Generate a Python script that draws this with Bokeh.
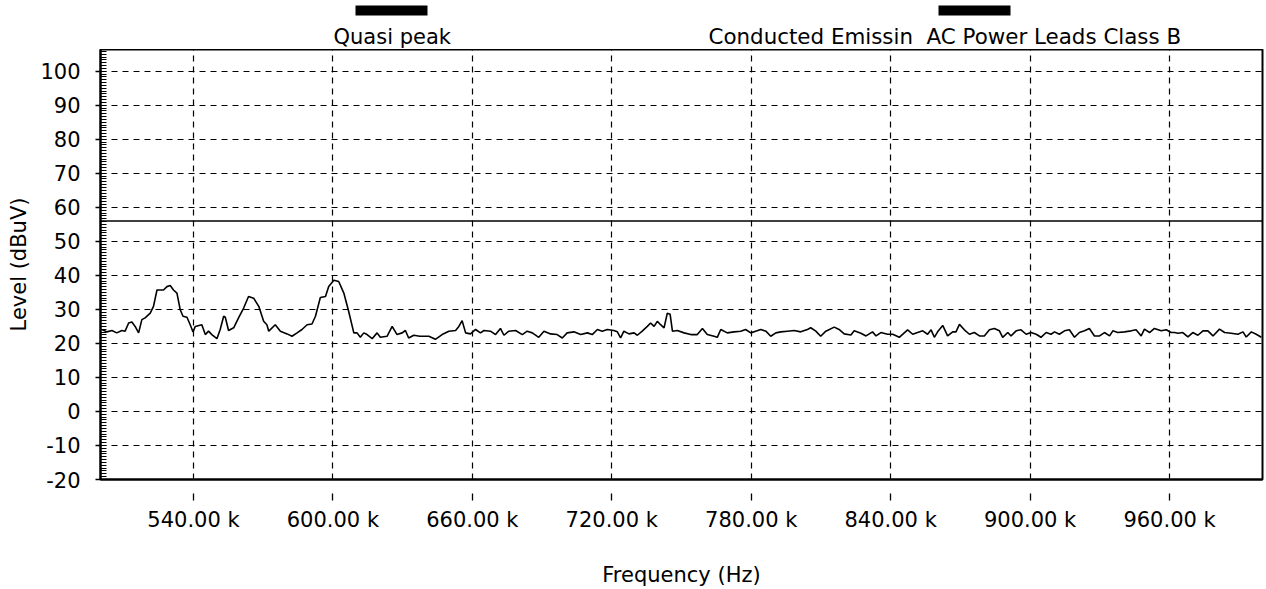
from bokeh.plotting import figure
from bokeh.layouts import column
from bokeh.models import Range1d, FixedTicker, CustomJSTickFormatter, Label, BoxAnnotation
from bokeh.embed import file_html
from bokeh.resources import INLINE

# ---- data ----
freq_khz = [
    500.6, 502.7, 504.9, 507.0, 509.2, 510.6, 512.1, 513.5, 514.9, 516.4,
    517.8, 519.2, 521.4, 522.8, 524.3, 527.1, 528.6, 530.0, 531.4, 532.9,
    534.3, 535.5, 537.2, 538.6, 539.8, 540.8, 543.6, 545.1, 546.5, 547.9,
    550.1, 551.5, 553.0, 553.7, 555.1, 557.3, 559.4, 561.6, 563.7, 565.9,
    568.1, 570.2, 571.6, 572.4, 575.2, 577.4, 580.3, 582.4, 584.6, 586.7,
    588.9, 591.0, 592.5, 594.6, 596.8, 598.2, 600.4, 602.5, 604.7, 606.8,
    609.0, 610.4, 611.8, 613.3, 614.7, 616.9, 619.0, 620.4, 623.3, 625.5,
    627.6, 629.8, 631.2, 632.6, 634.8, 637.4,
    641.3, 644.1, 647.0, 649.9, 652.8, 654.2, 655.6, 657.1, 659.2,
    661.4, 663.5, 665.0, 667.8, 670.0, 672.1, 673.6, 675.7, 678.6, 681.5,
    683.6, 685.8, 688.6, 690.8, 693.7, 696.5, 698.7, 700.8, 703.7, 706.6,
    709.5, 711.6, 713.8, 715.9, 718.1, 720.9, 722.4, 723.8, 725.2, 727.4,
    729.6, 731.0, 733.1, 735.3, 736.7, 738.2, 739.6, 741.0, 742.5, 743.9,
    745.1, 746.1, 748.2, 751.1, 754.0, 756.8, 759.0, 761.1, 764.0, 765.4,
    766.9, 769.7, 772.6, 775.5, 777.6, 779.8, 781.9, 784.1, 786.3, 788.4,
    790.6, 792.7, 795.6, 798.5, 801.3, 804.2, 805.6, 807.8, 809.9, 812.1,
    815.7, 817.8, 820.0,
    822.9, 824.3, 827.2, 829.4, 832.2, 833.7, 835.8, 838.7, 840.9, 843.7,
    847.3, 849.5, 851.6, 853.8, 855.9, 857.4, 858.8, 860.2, 862.4, 864.5,
    866.7, 868.1, 869.6, 871.7, 873.9, 876.0, 878.2, 880.3, 882.5, 884.6,
    886.8, 888.2, 890.4, 891.8, 894.0, 896.1, 898.3, 900.4, 902.6, 904.7,
    906.9, 909.0, 910.5, 912.6, 914.8, 916.9, 919.1, 921.2, 923.4, 925.5,
    927.7, 929.9, 932.0, 934.2, 935.6, 937.7, 940.6, 943.5, 945.6, 947.8,
    949.2, 951.4, 953.5, 956.4, 958.6, 960.7, 962.2, 963.6, 965.7, 967.9,
    970.0, 972.2, 974.4, 976.5, 978.7, 981.5, 983.7, 986.5, 989.4, 991.6,
    993.0, 995.2, 997.3, 999.5,
]
level_dbuv = [
    24.1, 23.4, 23.8, 23.1, 23.8, 23.6, 26.0, 26.3, 25.0, 23.1,
    27.0, 27.5, 28.9, 30.9, 35.7, 35.7, 36.7, 37.0, 35.7, 34.8,
    29.9, 28.0, 27.7, 25.5, 23.4, 25.0, 25.5, 22.6, 23.6, 22.6,
    21.4, 24.1, 28.0, 27.7, 23.8, 24.6, 27.5, 30.4, 33.8, 33.3,
    30.9, 26.5, 25.5, 23.6, 25.5, 23.6, 22.8, 22.1, 23.1, 24.1,
    25.5, 25.7, 28.0, 33.5, 33.8, 36.7, 38.6, 38.2, 34.8, 29.4,
    23.1, 23.1, 21.8, 23.1, 22.6, 21.4, 23.1, 21.8, 22.1, 25.0,
    22.6, 23.1, 23.8, 21.6, 22.4, 22.1,
    22.1, 21.2, 22.6, 23.6, 23.8, 25.0, 26.7, 23.1, 22.8,
    24.1, 23.1, 23.8, 23.6, 22.6, 24.4, 22.4, 23.6, 23.8, 22.6,
    23.6, 23.1, 21.8, 23.6, 22.8, 22.6, 21.6, 23.1, 23.4, 22.6,
    23.1, 22.6, 24.1, 23.6, 24.1, 23.8, 23.4, 21.6, 23.6, 22.8,
    23.1, 22.4, 23.6, 25.0, 26.0, 25.0, 26.5, 25.5, 24.6, 28.9,
    28.6, 23.6, 23.8, 23.1, 22.6, 22.6, 24.4, 22.6, 22.1, 21.8,
    24.1, 23.1, 23.4, 23.6, 24.1, 23.1, 23.6, 24.1, 23.6, 22.1,
    23.1, 23.4, 23.6, 23.8, 23.4, 24.1, 24.6, 23.6, 22.1, 23.6,
    24.8, 24.1, 22.8,
    22.5, 23.7, 23.0, 22.2, 23.4, 22.2, 23.2, 22.7, 22.7, 21.8,
    24.0, 22.7, 23.2, 23.7, 22.7, 24.0, 21.8, 23.4, 25.3, 22.2,
    23.4, 23.4, 25.6, 24.0, 22.7, 23.2, 22.2, 22.2, 24.0, 24.4,
    23.7, 21.8, 23.2, 22.2, 23.7, 24.0, 22.7, 23.2, 22.7, 21.8,
    23.2, 22.7, 23.4, 22.7, 23.7, 24.0, 21.8, 23.2, 23.7, 24.4,
    22.2, 22.2, 23.2, 22.2, 23.7, 23.2, 23.4, 23.7, 24.0, 22.2,
    24.2, 23.2, 24.4, 23.7, 24.0, 23.2, 23.2, 23.0, 23.2, 21.9,
    23.2, 22.4, 23.7, 23.7, 22.2, 24.2, 23.2, 23.0, 22.7, 23.4,
    21.9, 23.4, 22.7, 21.8,
]
assert len(freq_khz) == len(level_dbuv)

limit_freq_khz = [500.0, 1000.0]
limit_level_dbuv = [56.0, 56.0]

x_ticks = [540, 600, 660, 720, 780, 840, 900, 960]
y_ticks = [-20, -10, 0, 10, 20, 30, 40, 50, 60, 70, 80, 90, 100]
legend_texts = ["Quasi peak", "Conducted Emissin\u00a0 AC Power Leads Class B"]

FONT = "DejaVu Sans"
FS = "21px"
W = 1266
LEFT, RIGHT = 100, 4
HEAD_H = 49

# ---- header strip with the two legend entries (bar above text) ----
head = figure(width=W, height=HEAD_H, output_backend="svg", toolbar_location=None,
              x_range=Range1d(0, 1), y_range=Range1d(0, 1),
              x_axis_location=None, y_axis_location=None,
              min_border_left=LEFT, min_border_right=RIGHT,
              min_border_top=0, min_border_bottom=0)
head.outline_line_color = None
head.xgrid.visible = False
head.ygrid.visible = False
for left_px, text_px, txt, fs in ((255, 233, legend_texts[0], "21px"),
                                  (838, 608, legend_texts[1], "21.4px")):
    head.add_layout(BoxAnnotation(left=left_px, right=left_px + 72, bottom=34, top=44,
                                  left_units="screen", right_units="screen",
                                  bottom_units="screen", top_units="screen",
                                  fill_color="black", fill_alpha=1.0, line_color=None))
    head.add_layout(Label(x=text_px, y=13, x_units="screen", y_units="screen",
                          text=txt, text_font=FONT, text_font_size=fs,
                          text_color="black", text_baseline="middle",
                          text_align="left"))

# ---- main chart ----
p = figure(width=W, height=540, output_backend="svg", toolbar_location=None,
           x_range=Range1d(500, 1000), y_range=Range1d(-20, 106.4),
           min_border_left=LEFT, min_border_right=RIGHT, min_border_top=0,
           min_border_bottom=106, background_fill_color="white",
           border_fill_color="white")
p.outline_line_color = "black"
p.outline_line_width = 2

p.line(freq_khz, level_dbuv, line_color="black", line_width=1.6)
p.line(limit_freq_khz, limit_level_dbuv, line_color="black", line_width=1.5)

minor = [v / 12.0 * 10 for v in range(-24, 128)]
p.xaxis.ticker = FixedTicker(ticks=x_ticks)
p.yaxis.ticker = FixedTicker(ticks=y_ticks, minor_ticks=minor)
p.xaxis.formatter = CustomJSTickFormatter(code="return tick.toFixed(2) + ' k';")
p.yaxis.formatter = CustomJSTickFormatter(code="return tick.toFixed(0);")

for ax in (p.xaxis[0], p.yaxis[0]):
    ax.axis_line_color = "black"
    ax.axis_line_width = 2
    ax.major_tick_line_color = "black"
    ax.major_tick_line_width = 1.3
    ax.major_label_text_font = FONT
    ax.major_label_text_font_size = FS
    ax.major_label_text_color = "black"
    ax.axis_label_text_font = FONT
    ax.axis_label_text_font_size = FS
    ax.axis_label_text_font_style = "normal"
    ax.axis_label_text_color = "black"

p.xaxis.axis_label = "Frequency (Hz)"
p.xaxis.major_tick_in = -14
p.xaxis.major_tick_out = 21
p.xaxis.minor_tick_line_color = None
p.xaxis.major_label_standoff = 7
p.xaxis.axis_label_standoff = 28

p.yaxis.axis_label = "Level (dBuV)"
p.yaxis.major_tick_in = 0
p.yaxis.major_tick_out = 5
p.yaxis.minor_tick_in = 6
p.yaxis.minor_tick_out = 0
p.yaxis.minor_tick_line_color = "black"
p.yaxis.minor_tick_line_width = 1
p.yaxis.major_label_standoff = 15
p.yaxis.axis_label_standoff = 6

for g in (p.xgrid[0], p.ygrid[0]):
    g.grid_line_color = "black"
    g.grid_line_dash = "6 5"
    g.grid_line_width = 1.2

layout = column(head, p, spacing=0)
open("out.html", "w").write(file_html(layout, INLINE))
